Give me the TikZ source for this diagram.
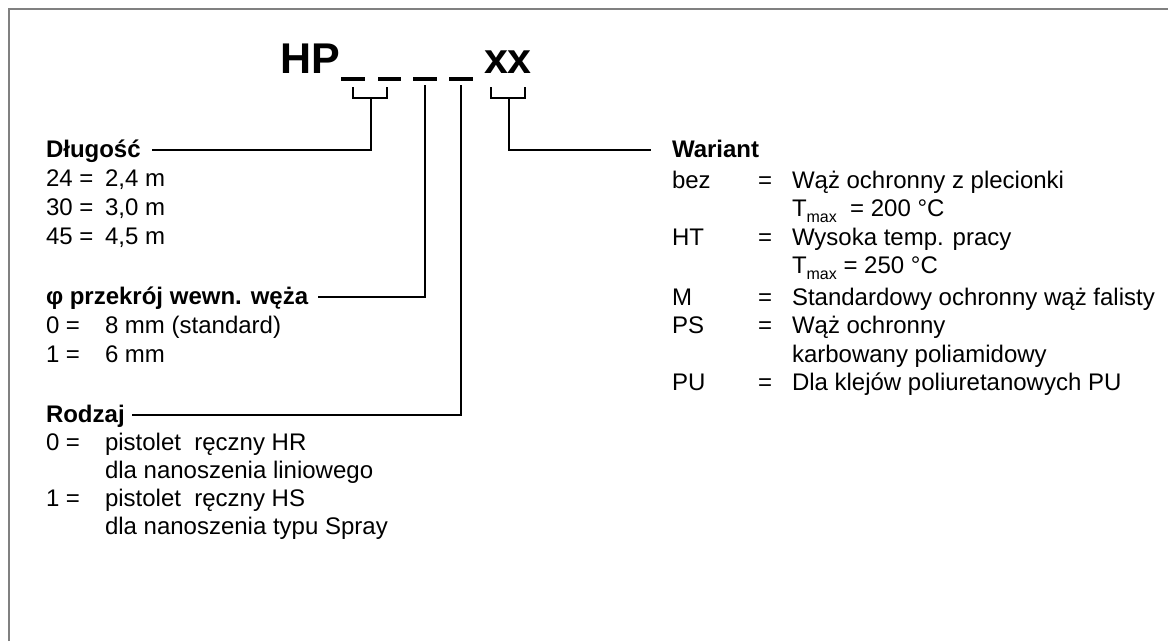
\documentclass[tikz,border=0pt]{standalone}
\usepackage{fontspec}
\setmainfont{Liberation Sans}
\begin{document}
\begin{tikzpicture}[x=1pt,y=-1pt,
  txt/.style={inner sep=0pt, outer sep=0pt, anchor=base west, font=\fontsize{24}{28}\selectfont},
  hd/.style={txt, font=\fontsize{24}{28}\selectfont\bfseries},
  big/.style={inner sep=0pt, outer sep=0pt, anchor=base west, font=\fontsize{43}{48}\selectfont\bfseries},
  conn/.style={line width=1.5pt, line cap=rect},
  blank/.style={line width=4pt},
  frame/.style={line width=2pt, draw=black!50}]
\useasboundingbox (0,0) rectangle (1168,641);
\draw[frame] (9,641) -- (9,9) -- (1168,9);
% code
\node[big] (hp) at (280,73) {HP};
\node[big] (xx) at (484,73) {xx};
\draw[blank] (341,79) -- (365,79);
\draw[blank] (378,79) -- (401,79);
\draw[blank] (413,79) -- (437,79);
\draw[blank] (449,79) -- (473,79);
% coordinates
\coordinate (b1l) at (353,88); \coordinate (b1r) at (387,88);
\coordinate (b1m) at (371,98);
\coordinate (c1) at (153,150);
\coordinate (d3) at (425,86); \coordinate (c2) at (319,297);
\coordinate (d4) at (461,86); \coordinate (c3) at (133,415);
\coordinate (b2l) at (491,88); \coordinate (b2r) at (525,88);
\coordinate (b2m) at (509,98);
\coordinate (c4) at (650,150);
% connectors
\draw[conn] (b1l) -- (b1l |- b1m) -- (b1r |- b1m) -- (b1r);
\draw[conn] (b1m) |- (c1);
\draw[conn] (d3) |- (c2);
\draw[conn] (d4) |- (c3);
\draw[conn] (b2l) -- (b2l |- b2m) -- (b2r |- b2m) -- (b2r);
\draw[conn] (b2m) |- (c4);
% left: length
\node[hd] (dl) at (46,157) {Długość};
\node[txt] (k1) at (46,186) {24 =};  \node[txt] (v1) at (105,186) {2,4 m};
\node[txt] (k2) at (46,215) {30 =};  \node[txt] (v2) at (105,215) {3,0 m};
\node[txt] (k3) at (46,244) {45 =};  \node[txt] (v3) at (105,244) {4,5 m};
% diameter
\node[hd] (ph) at (46,304) {φ przekrój wewn. węża};
\node[txt] (k4) at (46,333) {0 =};  \node[txt] (v4) at (105,333) {8 mm (standard)};
\node[txt] (k5) at (46,362) {1 =};  \node[txt] (v5) at (105,362) {6 mm};
% type
\node[hd] (ro) at (46,422) {Rodzaj};
\node[txt] (k6) at (46,450) {0 =};  \node[txt] (v6) at (105,450) {pistolet\ \ ręczny HR};
\node[txt] (v7) at (105,478) {dla nanoszenia liniowego};
\node[txt] (k8) at (46,506) {1 =};  \node[txt] (v8) at (105,506) {pistolet\ \ ręczny HS};
\node[txt] (v9) at (105,534) {dla nanoszenia typu Spray};
% variant
\node[hd] (wa) at (672,157) {Wariant};
\node[txt] (r1k) at (672,188) {bez}; \node[txt] (r1e) at (758,188) {=};
\node[txt] (r1v) at (792,188) {Wąż ochronny z plecionki};
\node[txt] (r2v) at (792,216) {T\raisebox{-6pt}{\fontsize{16}{16}\selectfont max}\ \ = 200 °C};
\node[txt] (r3k) at (672,245) {HT}; \node[txt] (r3e) at (758,245) {=};
\node[txt] (r3v) at (792,245) {Wysoka temp. pracy};
\node[txt] (r4v) at (792,273) {T\raisebox{-6pt}{\fontsize{16}{16}\selectfont max} = 250 °C};
\node[txt] (r5k) at (672,305) {M}; \node[txt] (r5e) at (758,305) {=};
\node[txt] (r5v) at (792,305) {Standardowy ochronny wąż falisty};
\node[txt] (r6k) at (672,333) {PS}; \node[txt] (r6e) at (758,333) {=};
\node[txt] (r6v) at (792,333) {Wąż ochronny};
\node[txt] (r7v) at (792,362) {karbowany poliamidowy};
\node[txt] (r8k) at (672,390) {PU}; \node[txt] (r8e) at (758,390) {=};
\node[txt] (r8v) at (792,390) {Dla klejów poliuretanowych PU};
\end{tikzpicture}
\end{document}
